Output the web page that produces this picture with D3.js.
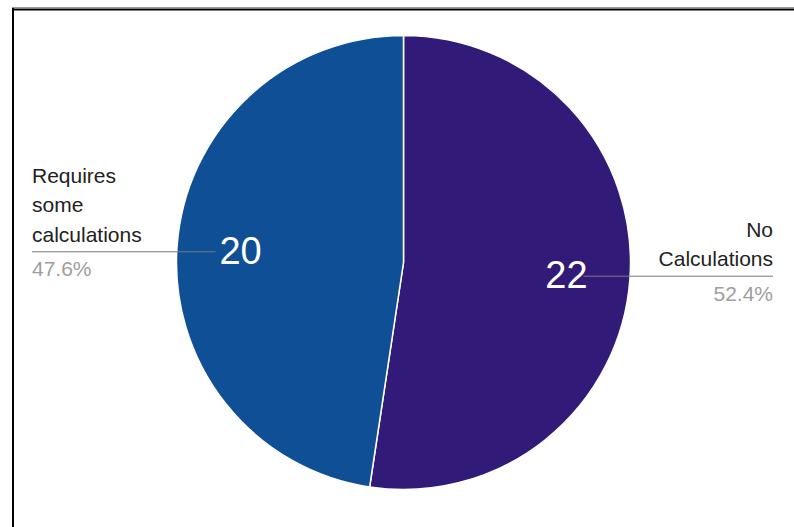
<!DOCTYPE html>
<html>
<head>
<meta charset="utf-8">
<script src="https://cdn.jsdelivr.net/npm/d3@7"></script>
<style>
  body { margin: 0; background: #fff; }
  svg { display: block; font-family: Arial, "Liberation Sans", sans-serif; }
</style>
</head>
<body>
<div id="chart"></div>
<script>
// data
const categories = ["No Calculations", "Requires some calculations"];
const labelLines = [["No", "Calculations"], ["Requires", "some", "calculations"]];
const values = [22, 20];
const colors = ["#321b78", "#0f4f95"];

const width = 794, height = 527;
const cx = 403.5, cy = 262.5, radius = 227;

const svg = d3.select("#chart")
    .append("svg")
    .attr("width", width)
    .attr("height", height);

// frame from the screenshot (top and left edges only)
svg.append("line").attr("x1", 12).attr("x2", width).attr("y1", 7.5).attr("y2", 7.5)
    .attr("stroke", "#999").attr("stroke-width", 1);
svg.append("line").attr("x1", 12).attr("x2", width).attr("y1", 9.5).attr("y2", 9.5)
    .attr("stroke", "#000").attr("stroke-width", 2);
svg.append("line").attr("x1", 13).attr("x2", 13).attr("y1", 8).attr("y2", height)
    .attr("stroke", "#000").attr("stroke-width", 2);

const data = categories.map((c, i) => ({ name: c, lines: labelLines[i], value: values[i], color: colors[i] }));
const total = d3.sum(values);

const pie = d3.pie().value(d => d.value).sort(null);
const arcs = pie(data);

const arc = d3.arc().innerRadius(0).outerRadius(radius);
const labelArc = d3.arc().innerRadius(radius * 0.72).outerRadius(radius * 0.72);

const g = svg.append("g").attr("transform", `translate(${cx}, ${cy})`);

g.selectAll("path.slice")
  .data(arcs)
  .join("path")
    .attr("class", "slice")
    .attr("d", arc)
    .attr("fill", d => d.data.color)
    .attr("stroke", "#fff")
    .attr("stroke-width", 1.5);

// leader lines + outside labels
const leftX = 32 - cx, rightX = 773 - cx;
arcs.forEach(d => {
  const [x, y] = labelArc.centroid(d);
  const right = x > 0;
  const ly = y + 1.5;
  const edge = right ? rightX : leftX;
  g.append("line")
    .attr("x1", right ? x + 17 : edge)
    .attr("x2", right ? edge : x - 25)
    .attr("y1", ly).attr("y2", ly)
    .attr("stroke", "#7a7a7a")
    .attr("stroke-width", 1);

  const anchor = right ? "end" : "start";
  const n = d.data.lines.length;
  d.data.lines.forEach((t, i) => {
    g.append("text")
      .attr("x", edge)
      .attr("y", ly - 10 - (n - 1 - i) * 29.5)
      .attr("text-anchor", anchor)
      .attr("font-size", 21)
      .attr("fill", "#222")
      .text(t);
  });
  g.append("text")
    .attr("x", edge)
    .attr("y", ly + 24.5)
    .attr("text-anchor", anchor)
    .attr("font-size", 21)
    .attr("fill", "#9e9e9e")
    .text((d.data.value / total * 100).toFixed(1) + "%");
});

// values inside slices
g.selectAll("text.val")
  .data(arcs)
  .join("text")
    .attr("class", "val")
    .attr("transform", d => `translate(${labelArc.centroid(d)})`)
    .attr("text-anchor", "middle")
    .attr("dy", "0.36em")
    .attr("font-size", 38)
    .attr("fill", "#fff")
    .text(d => d.data.value);
</script>
</body>
</html>
